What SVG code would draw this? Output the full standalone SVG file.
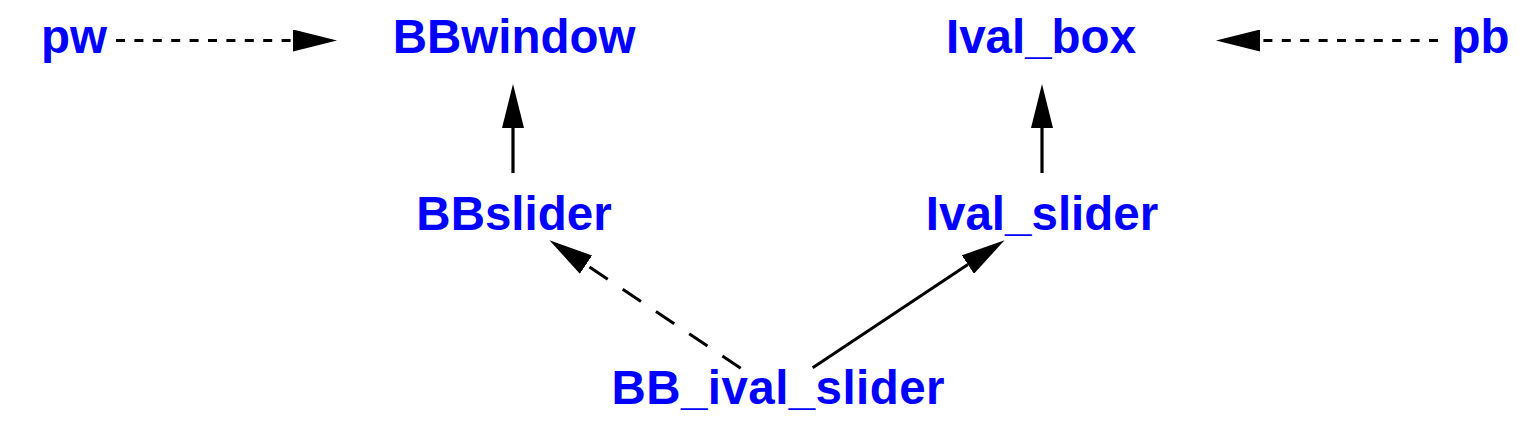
<svg xmlns="http://www.w3.org/2000/svg" width="1533" height="431" viewBox="0 0 1533 431">
  <style>
    .lbl { font-family: "Liberation Sans", Arial, Helvetica, sans-serif; font-weight: bold; font-size: 47.5px; fill: #0000ff; text-anchor: middle; }
    .edge { stroke: #000000; fill: none; stroke-width: 3.2; }
    .dash-s { stroke-dasharray: 9 9.4; }
    .dash-l { stroke-dasharray: 22 18; stroke-width: 3; }
    .diag { stroke-width: 3; }
  </style>
  <defs>
    <marker id="ah" viewBox="0 0 44 22" markerWidth="44" markerHeight="22" refX="0" refY="11" orient="auto" markerUnits="userSpaceOnUse">
      <path d="M0,0 L44,11 L0,22 Z" fill="#000000"/>
    </marker>
  </defs>
  <rect x="0" y="0" width="1533" height="431" fill="#ffffff"/>
  <g id="connectors">
    <line class="edge dash-s" x1="116" y1="40.5" x2="293" y2="40.5" marker-end="url(#ah)"/>
    <line class="edge dash-s" x1="1438" y1="40.5" x2="1260" y2="40.5" marker-end="url(#ah)"/>
    <line class="edge" x1="513" y1="173" x2="513" y2="128" marker-end="url(#ah)"/>
    <line class="edge" x1="1042" y1="173" x2="1042" y2="128" marker-end="url(#ah)"/>
    <line class="edge dash-l" x1="740.7" y1="368.3" x2="586" y2="264.7" marker-end="url(#ah)"/>
    <line class="edge diag" x1="812.7" y1="367.7" x2="967.9" y2="264.6" marker-end="url(#ah)"/>
  </g>
  <g id="pw"><text class="lbl" x="74" y="53">pw</text></g>
  <g id="BBwindow"><text class="lbl" x="514" y="53">BBwindow</text></g>
  <g id="Ival_box"><text class="lbl" x="1041" y="53">Ival_box</text></g>
  <g id="pb"><text class="lbl" x="1480.5" y="53">pb</text></g>
  <g id="BBslider"><text class="lbl" x="514" y="230">BBslider</text></g>
  <g id="Ival_slider"><text class="lbl" x="1042" y="230">Ival_slider</text></g>
  <g id="BB_ival_slider"><text class="lbl" x="778" y="404" textLength="333" lengthAdjust="spacing">BB_ival_slider</text></g>
</svg>
